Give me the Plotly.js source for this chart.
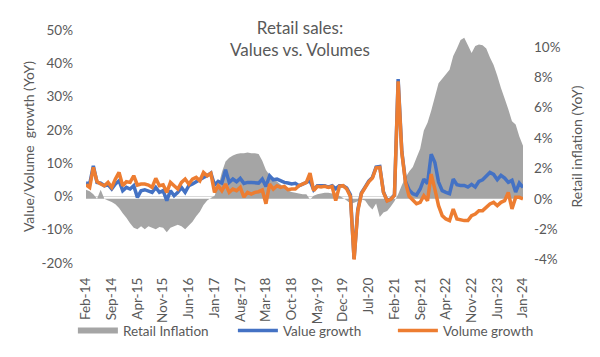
<!DOCTYPE html>
<html>
<head>
<meta charset="utf-8">
<script src="https://cdn.plot.ly/plotly-3.0.1.min.js"></script>
<style>html,body{margin:0;padding:0;background:#fff;}#chart{width:600px;height:357px;}</style>
</head>
<body>
<div id="chart"></div>
<script>
// Months Feb-14 .. Jan-24 (120 monthly categories)
const monthNames = ["Jan","Feb","Mar","Apr","May","Jun","Jul","Aug","Sep","Oct","Nov","Dec"];
const categories = [];
for (let k = 0; k < 120; k++) {
  const m = (1 + k) % 12;
  const yr = 14 + Math.floor((1 + k) / 12);
  categories.push(monthNames[m] + "-" + String(yr).padStart(2, "0"));
}
const tickLabels = ["Feb-14","Sep-14","Apr-15","Nov-15","Jun-16","Jan-17","Aug-17","Mar-18","Oct-18",
  "May-19","Dec-19","Jul-20","Feb-21","Sep-21","Apr-22","Nov-22","Jun-23","Jan-24"];

// Value growth (YoY, %)
const valueGrowth = [4.0,3.7,9.2,4.2,4.0,3.2,3.5,2.2,3.7,4.7,1.7,2.7,2.2,3.2,-0.3,1.7,2.0,1.5,1.2,2.7,
  1.2,1.7,-1.3,1.7,0.2,1.2,2.7,1.2,3.2,3.7,4.4,5.2,5.7,6.2,7.0,3.4,4.5,4.0,8.0,4.2,
  5.2,4.4,5.4,3.9,4.2,4.2,4.2,4.0,5.2,3.0,6.2,5.0,5.2,4.7,4.2,4.0,3.7,3.9,3.2,3.7,
  4.2,4.7,2.0,3.2,3.2,3.2,2.8,3.2,2.3,3.2,3.2,2.5,0.5,-18.8,-4.0,1.0,2.8,4.6,5.7,8.8,
  9.0,1.3,-1.3,-0.8,0.4,35.3,13.5,4.5,1.9,0.8,0.4,2.2,5.2,3.8,12.7,10.2,4.3,1.7,1.2,0.8,
  5.2,3.5,3.3,3.3,2.8,3.6,2.8,4.5,5.0,6.2,7.2,6.6,5.0,6.3,5.5,4.2,4.8,1.3,4.0,2.7];

// Volume growth (YoY, %)
const volumeGrowth = [3.5,2.7,8.7,4.4,3.7,3.2,4.2,2.7,5.2,7.2,3.2,4.4,4.2,6.2,3.4,3.7,3.7,3.4,2.7,5.4,
  3.2,3.5,1.2,4.2,3.2,2.2,4.2,5.2,3.7,5.2,5.7,4.7,7.2,6.2,6.9,1.2,3.2,1.7,3.7,1.2,
  2.2,1.7,2.7,-0.2,1.2,0.7,1.2,1.4,1.9,-2.2,3.7,2.2,3.2,2.7,3.0,2.0,2.2,2.2,3.2,3.7,
  4.2,7.0,1.7,3.0,2.8,3.0,2.7,3.0,-1.3,3.0,3.2,2.2,0.0,-19.0,-4.5,0.8,2.6,4.4,5.5,8.6,
  8.7,1.2,-1.4,-0.9,0.3,34.6,13.2,4.2,0.0,-1.3,-2.2,-1.8,0.2,-1.3,6.7,2.2,-2.8,-5.8,-6.8,-7.3,
  -3.8,-6.8,-7.1,-7.3,-7.3,-5.8,-5.3,-4.3,-4.3,-3.3,-2.3,-1.8,-2.8,-1.8,-1.3,1.2,-3.8,-0.3,-0.3,-0.8];

// Retail inflation (YoY, %)
const retailInflation = [0.6,0.5,0.3,0.0,0.6,0.0,-0.1,-0.2,-0.35,-0.6,-0.95,-1.25,-1.6,-1.9,-2.0,-1.8,-2.0,-1.8,-1.9,-2.0,
  -1.85,-1.9,-2.2,-1.9,-1.8,-1.7,-1.8,-2.0,-1.75,-1.5,-1.15,-0.85,-0.4,-0.1,0.05,0.2,0.8,1.75,2.45,2.7,
  2.85,2.95,3.0,3.0,3.05,3.0,3.0,2.95,2.5,1.9,1.55,1.35,1.15,0.95,0.75,0.55,0.45,0.4,0.35,0.3,
  0.3,-0.05,0.2,0.3,0.35,0.4,0.4,0.35,0.3,0.2,0.05,-0.1,-0.3,-0.25,-0.15,-0.05,-0.1,-0.45,-0.7,-0.3,
  -1.2,-0.9,-0.8,-0.5,-0.15,0.3,0.9,1.4,1.8,2.1,2.7,3.3,4.5,5.0,5.8,6.7,7.6,7.9,8.2,8.5,
  9.4,9.9,10.45,10.6,10.1,9.6,10.05,10.15,10.1,9.9,9.3,8.8,8.1,7.3,6.6,5.9,5.1,4.9,4.1,3.5];

const leftTicks = [-20,-10,0,10,20,30,40,50];
const rightTicks = [-4,-2,0,2,4,6,8,10];

const FONT = "Lato, 'Open Sans', sans-serif";
const GREY_TXT = "#595959";

const traces = [
  {
    x: categories, y: retailInflation, name: "Retail Inflation", type: "scatter",
    mode: "none", fill: "tozeroy", fillcolor: "#a5a5a5", yaxis: "y", hoverinfo: "skip"
  },
  {
    x: categories, y: valueGrowth, name: "Value growth", type: "scatter", mode: "lines",
    line: {color: "#4472c4", width: 3.5}, yaxis: "y2"
  },
  {
    x: categories, y: volumeGrowth, name: "Volume growth", type: "scatter", mode: "lines",
    line: {color: "#ed7d31", width: 3.5}, yaxis: "y2"
  }
];

const layout = {
  width: 600, height: 357,
  margin: {l: 86, r: 77, t: 30, b: 93, pad: 0},
  paper_bgcolor: "#ffffff", plot_bgcolor: "rgba(0,0,0,0)",
  font: {family: FONT, color: GREY_TXT, size: 13},
  title: {
    text: "Retail sales:<br>Values vs. Volumes",
    font: {family: FONT, size: 17, color: GREY_TXT},
    x: 0.5, xref: "container", xanchor: "center",
    y: 0.905, yref: "container", yanchor: "middle"
  },
  showlegend: true,
  legend: {
    orientation: "h", x: -0.03, xanchor: "left", y: -0.285, yanchor: "middle",
    font: {family: FONT, size: 13.5, color: GREY_TXT},
    itemwidth: 40, entrywidth: 105, traceorder: "normal", bgcolor: "rgba(0,0,0,0)"
  },
  xaxis: {
    type: "category", categoryorder: "array", categoryarray: categories,
    range: [0, categories.length - 1],
    tickmode: "array", tickvals: tickLabels, ticktext: tickLabels,
    tickangle: -90, ticks: "", ticklabelstandoff: 11,
    showgrid: false, showline: false, zeroline: false,
    tickfont: {family: FONT, size: 13.5, color: GREY_TXT}, fixedrange: true
  },
  // Right axis: retail inflation (drawn first so the area lies beneath the lines)
  yaxis: {
    side: "right", range: [-4.22, 11.11],
    tickmode: "array", tickvals: rightTicks, ticktext: rightTicks.map(v => v + "%"),
    showgrid: false, zeroline: false, showline: false, ticks: "", ticklabelstandoff: 10,
    tickfont: {family: FONT, size: 13.5, color: GREY_TXT},
    title: {text: "Retail inflation (YoY)", font: {family: FONT, size: 14, color: GREY_TXT}, standoff: 12},
    fixedrange: true
  },
  // Left axis: value / volume growth
  yaxis2: {
    side: "left", overlaying: "y", range: [-20.05, 50.05],
    tickmode: "array", tickvals: leftTicks, ticktext: leftTicks.map(v => v + "%"),
    showgrid: false, showline: false, ticks: "", ticklabelstandoff: 12,
    zeroline: true, zerolinecolor: "#d9d9d9", zerolinewidth: 1.5,
    tickfont: {family: FONT, size: 13.5, color: GREY_TXT},
    title: {text: "Value/Volume&nbsp; growth (YoY)", font: {family: FONT, size: 14, color: GREY_TXT}, standoff: 3},
    fixedrange: true
  }
};

Plotly.newPlot("chart", traces, layout, {displayModeBar: false, staticPlot: true});
</script>
</body>
</html>
